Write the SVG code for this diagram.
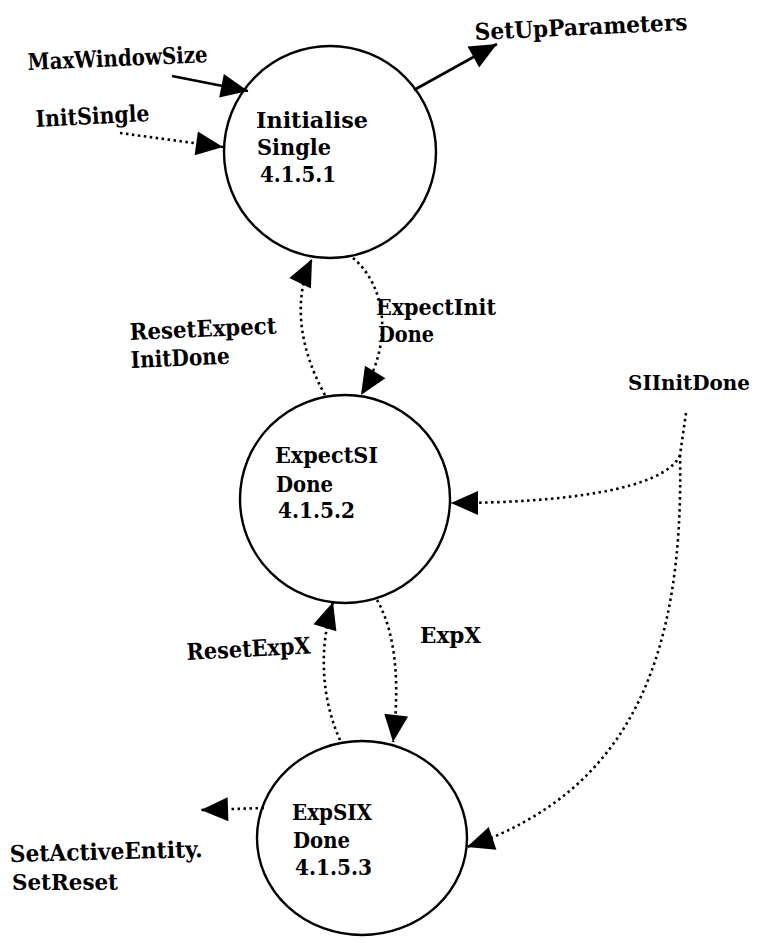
<svg xmlns="http://www.w3.org/2000/svg" width="760" height="943" viewBox="0 0 760 943">
  <style>
    .bubble { fill: #fff; stroke: #000; stroke-width: 2.4; }
    .lbl { font-family: "DejaVu Serif", "Liberation Serif", serif; font-size: 23px; font-weight: bold; fill: #000; }
    .solid { fill: none; stroke: #000; stroke-width: 2.6; }
    .dot { fill: none; stroke: #000; stroke-width: 2.6; stroke-dasharray: 2.5 3.5; }
  </style>
  <defs>
    <marker id="head" markerUnits="userSpaceOnUse" markerWidth="30" markerHeight="30" viewBox="-28 -14 30 28" refX="0" refY="0" orient="auto">
      <path d="M0,0 L-27,-12 L-27,12 Z" fill="#000"/>
    </marker>
  </defs>

  <!-- process bubbles -->
  <g id="initialise-single">
    <ellipse class="bubble" cx="330" cy="152" rx="106" ry="106"/>
    <text class="lbl" x="256" y="128" textLength="112" lengthAdjust="spacingAndGlyphs">Initialise</text>
    <text class="lbl" x="257" y="155" textLength="74" lengthAdjust="spacingAndGlyphs">Single</text>
    <text class="lbl" x="260" y="182" textLength="76" lengthAdjust="spacingAndGlyphs">4.1.5.1</text>
  </g>
  <g id="expect-si-done">
    <ellipse class="bubble" cx="345" cy="499" rx="105" ry="104"/>
    <text class="lbl" x="275" y="463" textLength="103" lengthAdjust="spacingAndGlyphs">ExpectSI</text>
    <text class="lbl" x="276" y="492" textLength="57" lengthAdjust="spacingAndGlyphs">Done</text>
    <text class="lbl" x="278" y="518" textLength="77" lengthAdjust="spacingAndGlyphs">4.1.5.2</text>
  </g>
  <g id="exp-six-done">
    <ellipse class="bubble" cx="362" cy="838" rx="105" ry="97"/>
    <text class="lbl" x="292" y="820" textLength="80" lengthAdjust="spacingAndGlyphs">ExpSIX</text>
    <text class="lbl" x="293" y="848" textLength="57" lengthAdjust="spacingAndGlyphs">Done</text>
    <text class="lbl" x="295" y="875" textLength="77" lengthAdjust="spacingAndGlyphs">4.1.5.3</text>
  </g>

  <!-- flows -->
  <g id="connectors">
    <path class="solid" d="M172,76 L248,91" marker-end="url(#head)"/>
    <path class="dot" d="M120,133 L223,147" marker-end="url(#head)"/>
    <path class="solid" d="M414,90 L497,44" marker-end="url(#head)"/>
    <path class="dot" d="M353,258 C385,285 395,340 361,395" marker-end="url(#head)"/>
    <path class="dot" d="M325,395 C300,350 292,300 312,259" marker-end="url(#head)"/>
    <path class="dot" d="M686,413 L680,455"/>
    <path class="dot" d="M680,455 C665,490 560,503 451,503" marker-end="url(#head)"/>
    <path class="dot" d="M680,455 C684,650 635,790 467,847" marker-end="url(#head)"/>
    <path class="dot" d="M377,600 C400,640 398,700 393,742" marker-end="url(#head)"/>
    <path class="dot" d="M340,740 C322,700 318,650 333,602" marker-end="url(#head)"/>
    <path class="dot" d="M264,808 L201,810" marker-end="url(#head)"/>
  </g>

  <!-- flow labels -->
  <g id="flow-labels">
    <text class="lbl" x="28" y="70" textLength="180" lengthAdjust="spacingAndGlyphs" transform="rotate(-2.5 28 70)">MaxWindowSize</text>
    <text class="lbl" x="36" y="127" textLength="114" lengthAdjust="spacingAndGlyphs" transform="rotate(-3 36 127)">InitSingle</text>
    <text class="lbl" x="475" y="40" textLength="213" lengthAdjust="spacingAndGlyphs" transform="rotate(-2.7 475 40)">SetUpParameters</text>
    <text class="lbl" x="130" y="340" textLength="147" lengthAdjust="spacingAndGlyphs" transform="rotate(-2.5 130 340)">ResetExpect</text>
    <text class="lbl" x="131" y="368" textLength="99" lengthAdjust="spacingAndGlyphs" transform="rotate(-2.5 131 368)">InitDone</text>
    <text class="lbl" x="376" y="315" textLength="120" lengthAdjust="spacingAndGlyphs">ExpectInit</text>
    <text class="lbl" x="378" y="342" textLength="56" lengthAdjust="spacingAndGlyphs">Done</text>
    <text class="lbl" x="628" y="390" style="font-size:20.5px" textLength="122" lengthAdjust="spacingAndGlyphs">SIInitDone</text>
    <text class="lbl" x="187" y="660" textLength="124" lengthAdjust="spacingAndGlyphs" transform="rotate(-3 187 660)">ResetExpX</text>
    <text class="lbl" x="420" y="643" textLength="61" lengthAdjust="spacingAndGlyphs">ExpX</text>
    <text class="lbl" x="10" y="862" textLength="193" lengthAdjust="spacingAndGlyphs" transform="rotate(-1.5 10 862)">SetActiveEntity.</text>
    <text class="lbl" x="12" y="890" textLength="106" lengthAdjust="spacingAndGlyphs">SetReset</text>
  </g>
</svg>
